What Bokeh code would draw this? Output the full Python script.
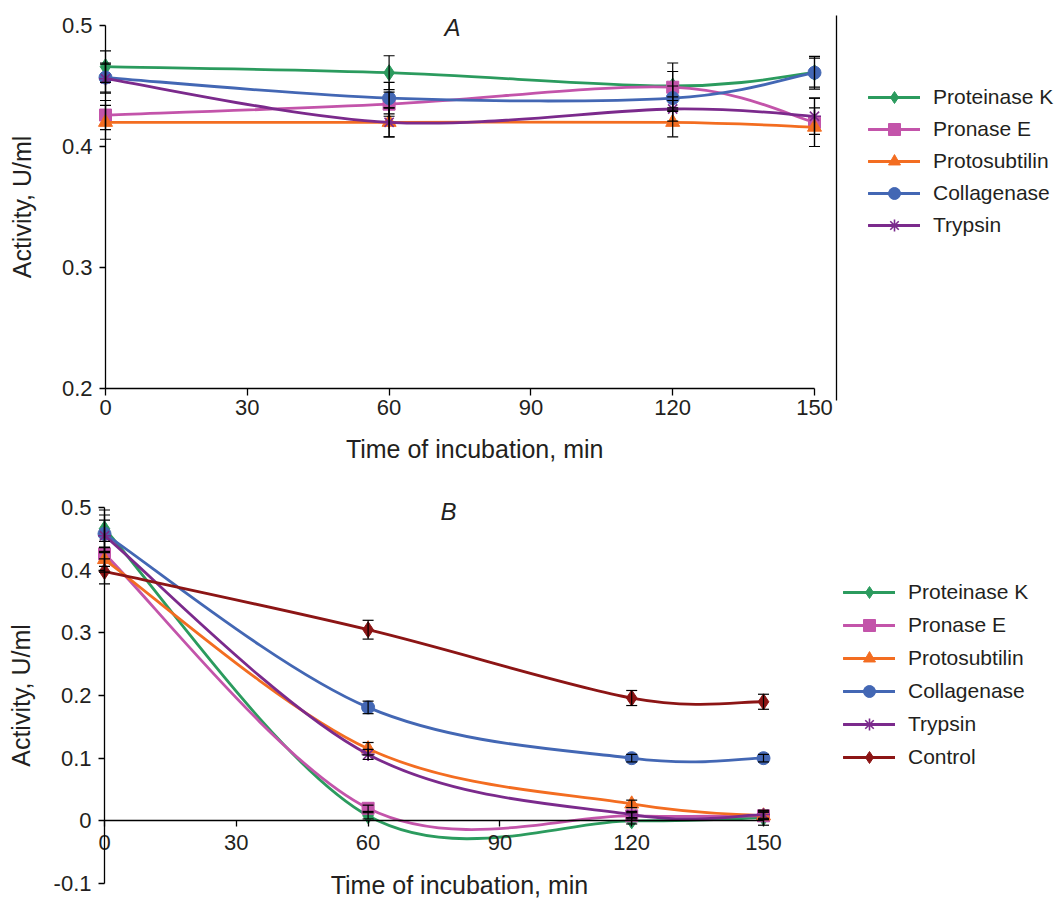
from bokeh.plotting import figure
from bokeh.models import (LinearAxis, FixedTicker, Range1d, Legend, LegendItem,
                          Whisker, TeeHead, ColumnDataSource, Label)
from bokeh.layouts import column
from bokeh.embed import file_html
from bokeh.resources import INLINE

# ---------------- data ----------------
minutes = [0, 60, 120, 150]
x_ticks = [0, 30, 60, 90, 120, 150]
x_tick_labels = ["0", "30", "60", "90", "120", "150"]
y_ticks_A = [0.2, 0.3, 0.4, 0.5]
y_tick_labels_A = ["0.2", "0.3", "0.4", "0.5"]
y_ticks_B = [-0.1, 0.0, 0.1, 0.2, 0.3, 0.4, 0.5]
y_tick_labels_B = ["-0.1", "0", "0.1", "0.2", "0.3", "0.4", "0.5"]

series_names_A = ["Proteinase K", "Pronase E", "Protosubtilin", "Collagenase", "Trypsin"]
series_names_B = ["Proteinase K", "Pronase E", "Protosubtilin", "Collagenase", "Trypsin", "Control"]

# Panel A values (U/ml) and errors
proteinase_k_A = [0.466, 0.461, 0.450, 0.461]
pronase_e_A = [0.426, 0.435, 0.449, 0.420]
protosubtilin_A = [0.420, 0.420, 0.420, 0.416]
collagenase_A = [0.457, 0.440, 0.440, 0.461]
trypsin_A = [0.456, 0.420, 0.431, 0.425]
proteinase_k_A_err = [0.013, 0.014, 0.012, 0.012]
pronase_e_A_err = [0.012, 0.010, 0.020, 0.020]
protosubtilin_A_err = [0.014, 0.012, 0.012, 0.016]
collagenase_A_err = [0.012, 0.013, 0.010, 0.0135]
trypsin_A_err = [0.012, 0.012, 0.010, 0.015]

# Panel B values (U/ml) and errors
proteinase_k_B = [0.466, 0.008, 0.000, 0.005]
pronase_e_B = [0.426, 0.020, 0.008, 0.008]
protosubtilin_B = [0.417, 0.115, 0.027, 0.008]
collagenase_B = [0.458, 0.181, 0.100, 0.100]
trypsin_B = [0.455, 0.106, 0.010, 0.010]
control_B = [0.398, 0.305, 0.196, 0.190]
proteinase_k_B_err = [0.030, 0.005, 0.005, 0.012]
pronase_e_B_err = [0.020, 0.005, 0.005, 0.006]
protosubtilin_B_err = [0.020, 0.010, 0.006, 0.006]
collagenase_B_err = [0.030, 0.010, 0.006, 0.006]
trypsin_B_err = [0.025, 0.008, 0.005, 0.006]
control_B_err = [0.020, 0.015, 0.012, 0.012]

# ---------------- styles ----------------
FONT = "Liberation Sans"
TXT = "#231f20"
STYLE = {
    "Proteinase K": dict(color="#2b9b5e", marker="diamond", size=16),
    "Pronase E": dict(color="#c354aa", marker="square", size=12),
    "Protosubtilin": dict(color="#f36d21", marker="triangle", size=14),
    "Collagenase": dict(color="#4367b4", marker="circle", size=13),
    "Trypsin": dict(color="#7b2a8c", marker="asterisk", size=13),
    "Control": dict(color="#8c1515", marker="diamond", size=16),
}

W = 1057          # canvas width of both panels
H_A, H_B = 468, 431


def excel_smooth(xs, ys):
    n = len(xs)
    seg = {k: [] for k in ("x0", "y0", "x1", "y1", "cx0", "cy0", "cx1", "cy1")}
    for i in range(n - 1):
        a = max(i - 1, 0)
        b = min(i + 2, n - 1)
        seg["x0"].append(xs[i]); seg["y0"].append(ys[i])
        seg["x1"].append(xs[i + 1]); seg["y1"].append(ys[i + 1])
        seg["cx0"].append(xs[i] + (xs[i + 1] - xs[a]) / 6.0)
        seg["cy0"].append(ys[i] + (ys[i + 1] - ys[a]) / 6.0)
        seg["cx1"].append(xs[i + 1] - (xs[b] - xs[i]) / 6.0)
        seg["cy1"].append(ys[i + 1] - (ys[b] - ys[i]) / 6.0)
    return seg


def add_series(p, name, vals, errs):
    st = STYLE[name]
    src = ColumnDataSource(excel_smooth(minutes, vals))
    rl = p.bezier(x0="x0", y0="y0", x1="x1", y1="y1", cx0="cx0", cy0="cy0",
                  cx1="cx1", cy1="cy1", source=src, line_color=st["color"],
                  line_width=2.8, line_cap="round")
    if st["marker"] == "asterisk":
        rm = p.scatter(minutes, vals, marker="asterisk", size=st["size"],
                       line_color=st["color"], line_width=1.6)
    else:
        rm = p.scatter(minutes, vals, marker=st["marker"], size=st["size"],
                       fill_color=st["color"], line_color=st["color"])
    esrc = ColumnDataSource(dict(x=minutes,
                                 up=[v + e for v, e in zip(vals, errs)],
                                 lo=[v - e for v, e in zip(vals, errs)]))
    w = Whisker(source=esrc, base="x", upper="up", lower="lo", dimension="height",
                line_color="black", line_width=1.2, level="overlay",
                upper_head=TeeHead(size=11, line_color="black", line_width=1.2),
                lower_head=TeeHead(size=11, line_color="black", line_width=1.2))
    p.add_layout(w)
    return LegendItem(label=name, renderers=[rl, rm])


def base_fig(xr, yr, height):
    # the data frame fills the whole canvas; every axis is drawn at a fixed location inside it
    p = figure(width=W, height=height, x_range=xr, y_range=yr,
               x_axis_location=None, y_axis_location=None,
               output_backend="svg", toolbar_location=None,
               min_border=0, min_border_left=0, min_border_right=0,
               min_border_top=0, min_border_bottom=0)
    p.outline_line_color = None
    p.background_fill_color = "white"
    p.border_fill_color = "white"
    for g in p.grid:
        g.visible = False
    return p


def style_axis(ax, tick_out, standoff):
    ax.axis_line_color = "black"
    ax.axis_line_width = 1.3
    ax.major_tick_line_color = "black"
    ax.major_tick_line_width = 1.3
    ax.major_tick_out = tick_out
    ax.major_tick_in = 0
    ax.minor_tick_line_color = None
    ax.major_label_text_font = FONT
    ax.major_label_text_font_size = "22px"
    ax.major_label_text_color = TXT
    ax.major_label_standoff = standoff
    ax.axis_label_text_font = FONT
    ax.axis_label_text_font_size = "25px"
    ax.axis_label_text_font_style = "normal"
    ax.axis_label_text_color = TXT


def make_legend(items, vx, vy, spacing):
    return Legend(items=items, location=(vx, vy), orientation="vertical",
                  glyph_width=52, glyph_height=30, label_height=30, spacing=spacing,
                  padding=0, margin=0, label_standoff=13,
                  label_text_font=FONT, label_text_font_size="21px",
                  label_text_color=TXT, border_line_color=None,
                  background_fill_alpha=0)


# ---------------- Panel A ----------------
# geometry of panel A: x=0 at px 105, 150 min = 709 px; 0.5 at px 25, 0.1 = 121 px
ax_px, ax_scale = 105, 709 / 150
ay_px, ay_scale = 25, 1210
xrA = Range1d(-ax_px / ax_scale, (W - ax_px) / ax_scale)
yrA = Range1d(0.5 - (H_A - ay_px) / ay_scale, 0.5 + ay_px / ay_scale)
pA = base_fig(xrA, yrA, H_A)

yA = LinearAxis(fixed_location=0, bounds=(0.2, 0.5), ticker=FixedTicker(ticks=y_ticks_A),
                major_label_overrides=dict(zip(y_ticks_A, y_tick_labels_A)),
                axis_label="Activity, U/ml")
style_axis(yA, 6, 7)
yA.axis_label_standoff = 23
pA.add_layout(yA, "left")
xA = LinearAxis(fixed_location=0.2, bounds=(0, 150), ticker=FixedTicker(ticks=x_ticks),
                major_label_overrides=dict(zip(x_ticks, x_tick_labels)))
style_axis(xA, 7, 4)
pA.add_layout(xA, "below")
rA = LinearAxis(fixed_location=154.65, bounds=(0.19, 0.508), ticker=FixedTicker(ticks=[]))
rA.axis_line_color = "black"
rA.axis_line_width = 1.3
pA.add_layout(rA, "right")

vals_A = [proteinase_k_A, pronase_e_A, protosubtilin_A, collagenase_A, trypsin_A]
errs_A = [proteinase_k_A_err, pronase_e_A_err, protosubtilin_A_err, collagenase_A_err, trypsin_A_err]
items_A = [add_series(pA, n, v, e) for n, v, e in zip(series_names_A, vals_A, errs_A)]
pA.add_layout(make_legend(items_A, 868, 228, 2))
pA.add_layout(Label(x=73.4, y=0.5, y_offset=-2, text="A", text_font=FONT,
                    text_font_size="24px", text_font_style="italic", text_color=TXT,
                    text_align="center", text_baseline="middle"))
pA.add_layout(Label(x=78.1, y=0.2, y_offset=-60, text="Time of incubation, min",
                    text_font=FONT, text_font_size="25px", text_color=TXT,
                    text_align="center", text_baseline="middle"))

# ---------------- Panel B ----------------
# geometry of panel B: x=0 at px 104, 150 min = 659 px; 0.5 at px 39 (panel), 0.6 = 376 px
bx_px, bx_scale = 104, 659 / 150
by_px, by_scale = 39, 376 / 0.6
xrB = Range1d(-bx_px / bx_scale, (W - bx_px) / bx_scale)
yrB = Range1d(0.5 - (H_B - by_px) / by_scale, 0.5 + by_px / by_scale)
pB = base_fig(xrB, yrB, H_B)

yB = LinearAxis(fixed_location=0, bounds=(-0.1, 0.5), ticker=FixedTicker(ticks=y_ticks_B),
                major_label_overrides=dict(zip(y_ticks_B, y_tick_labels_B)),
                axis_label="Activity, U/ml")
style_axis(yB, 6, 7)
yB.axis_label_standoff = 16
pB.add_layout(yB, "left")
xB = LinearAxis(fixed_location=0, bounds=(0, 150), ticker=FixedTicker(ticks=x_ticks),
                major_label_overrides=dict(zip(x_ticks, x_tick_labels)))
style_axis(xB, 6, 8)
pB.add_layout(xB, "below")

vals_B = [proteinase_k_B, pronase_e_B, protosubtilin_B, collagenase_B, trypsin_B, control_B]
errs_B = [proteinase_k_B_err, pronase_e_B_err, protosubtilin_B_err, collagenase_B_err,
          trypsin_B_err, control_B_err]
items_B = [add_series(pB, n, v, e) for n, v, e in zip(series_names_B, vals_B, errs_B)]
pB.add_layout(make_legend(items_B, 843, 127, 3))
pB.add_layout(Label(x=78.3, y=0.5, y_offset=-4, text="B", text_font=FONT,
                    text_font_size="24px", text_font_style="italic", text_color=TXT,
                    text_align="center", text_baseline="middle"))
pB.add_layout(Label(x=80.8, y=-0.1, y_offset=-1, text="Time of incubation, min",
                    text_font=FONT, text_font_size="25px", text_color=TXT,
                    text_align="center", text_baseline="middle"))

layout = column(pA, pB, spacing=0)
open("out.html", "w").write(file_html(layout, INLINE))
